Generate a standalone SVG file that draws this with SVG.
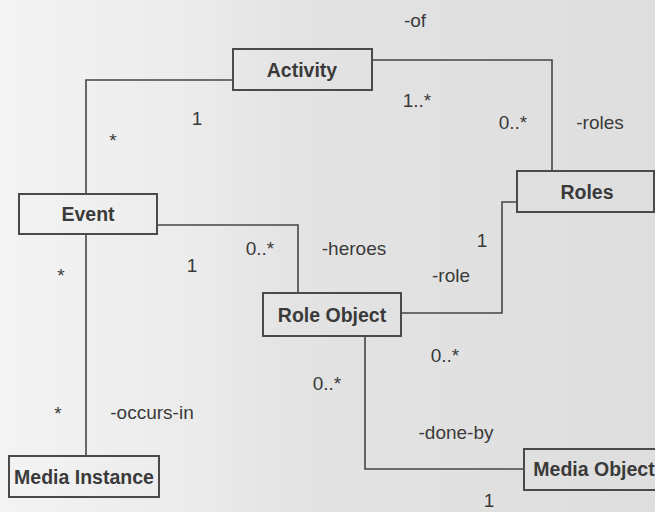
<svg xmlns="http://www.w3.org/2000/svg" width="655" height="512" viewBox="0 0 655 512">
  <style>
    .box { fill: none; stroke: #4a4a4a; stroke-width: 2; }
    .name { font-family: "Liberation Sans", Arial, sans-serif; font-size: 19.5px; font-weight: bold; fill: #3a3a3a; text-anchor: middle; }
    .lbl { font-family: "Liberation Sans", Arial, sans-serif; font-size: 19px; fill: #3a3a3a; text-anchor: middle; }
    .wire { fill: none; stroke: #454545; stroke-width: 1.6; }
  </style>
  <defs>
    <linearGradient id="paper" x1="0" y1="0" x2="1" y2="0">
      <stop offset="0" stop-color="#f3f3f3"/>
      <stop offset="0.3" stop-color="#ebebeb"/>
      <stop offset="0.45" stop-color="#e3e3e3"/>
      <stop offset="1" stop-color="#dedede"/>
    </linearGradient>
  </defs>
  <rect width="655" height="512" fill="url(#paper)"/>

  <g id="connectors">
    <path class="wire" d="M233,80 H86 V194"/>
    <path class="wire" d="M372,60 H552 V171"/>
    <path class="wire" d="M157,225 H298 V293"/>
    <path class="wire" d="M401,313 H502 V202 H517"/>
    <path class="wire" d="M86,234 V456"/>
    <path class="wire" d="M365,336 V469 H524"/>
  </g>

  <g id="labels">
    <text class="lbl" x="415" y="27">-of</text>
    <text class="lbl" x="197" y="125">1</text>
    <text class="lbl" x="113" y="147">*</text>
    <text class="lbl" x="417" y="107">1..*</text>
    <text class="lbl" x="513" y="129">0..*</text>
    <text class="lbl" x="600" y="129">-roles</text>
    <text class="lbl" x="260" y="255">0..*</text>
    <text class="lbl" x="354" y="255">-heroes</text>
    <text class="lbl" x="482" y="247">1</text>
    <text class="lbl" x="192" y="272">1</text>
    <text class="lbl" x="61" y="282">*</text>
    <text class="lbl" x="451" y="282">-role</text>
    <text class="lbl" x="445" y="362">0..*</text>
    <text class="lbl" x="327" y="390">0..*</text>
    <text class="lbl" x="58" y="420">*</text>
    <text class="lbl" x="152" y="419">-occurs-in</text>
    <text class="lbl" x="456" y="439">-done-by</text>
    <text class="lbl" x="489" y="507">1</text>
  </g>

  <g id="activity">
    <rect class="box" x="233" y="49" width="139" height="41"/>
    <text class="name" x="302" y="77">Activity</text>
  </g>
  <g id="event">
    <rect class="box" x="19" y="194" width="138" height="40"/>
    <text class="name" x="88" y="221">Event</text>
  </g>
  <g id="roles">
    <rect class="box" x="517" y="171" width="137" height="41"/>
    <text class="name" x="587" y="199">Roles</text>
  </g>
  <g id="role-object">
    <rect class="box" x="263" y="293" width="138" height="43"/>
    <text class="name" x="332" y="322">Role Object</text>
  </g>
  <g id="media-instance">
    <rect class="box" x="9" y="456" width="150" height="41"/>
    <text class="name" x="84" y="484">Media Instance</text>
  </g>
  <g id="media-object">
    <rect class="box" x="524" y="449" width="140" height="41"/>
    <text class="name" x="594" y="476">Media Object</text>
  </g>
</svg>
